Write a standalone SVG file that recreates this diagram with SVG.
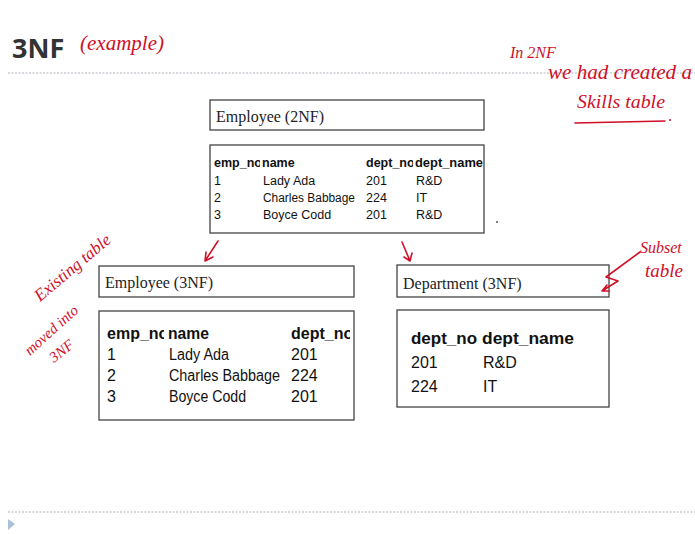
<svg xmlns="http://www.w3.org/2000/svg" width="695" height="534" viewBox="0 0 695 534">
<style>
.box{fill:#fff;stroke:#444;stroke-width:1.3}
.ttl{font-family:"Liberation Serif",serif;font-size:16px;fill:#222}
.t1{font-family:"Liberation Sans",sans-serif;font-size:12.5px;fill:#111}
.t1b{font-family:"Liberation Sans",sans-serif;font-size:12.5px;font-weight:bold;fill:#111}
.t2{font-family:"Liberation Sans",sans-serif;font-size:16px;fill:#111}
.t2b{font-family:"Liberation Sans",sans-serif;font-size:16px;font-weight:bold;fill:#111}
.hand{font-family:"Liberation Serif",serif;font-style:italic;fill:#d01028}
.ink{fill:none;stroke:#d01028;stroke-width:1.6;stroke-linecap:round;stroke-linejoin:round}
.dots{stroke:#c8ccd2;stroke-width:1.5;stroke-dasharray:2 1.5}
</style>
<defs>
<clipPath id="c1"><rect x="210" y="150" width="50" height="30"/></clipPath>
<clipPath id="c2"><rect x="360" y="150" width="53" height="30"/></clipPath>
<clipPath id="c3"><rect x="100" y="320" width="64" height="30"/></clipPath>
<clipPath id="c4"><rect x="280" y="320" width="70" height="30"/></clipPath>
</defs>
<rect width="695" height="534" fill="#fff"/>
<text x="12" y="58" font-family="Open Sans, Liberation Sans, sans-serif" font-size="27" font-weight="bold" fill="#333">3NF</text>
<text x="80" y="50" class="hand" font-size="21">(example)</text>
<line x1="8" y1="73" x2="695" y2="73" class="dots"/>
<text x="510" y="58" class="hand" font-size="16">In 2NF</text>
<text x="548" y="79" class="hand" font-size="20" textLength="144" lengthAdjust="spacingAndGlyphs">we had created a</text>
<text x="577" y="108" class="hand" font-size="19" textLength="88" lengthAdjust="spacingAndGlyphs">Skills table</text>
<path class="ink" d="M575 123 L665 121"/>
<circle cx="670" cy="120" r="1" fill="#d01028"/>

<g id="employee2nf">
<rect class="box" x="210" y="100" width="274" height="30"/>
<text x="216" y="122" class="ttl">Employee (2NF)</text>
<rect class="box" x="210" y="145" width="274" height="88"/>
<text x="214" y="167" class="t1b" clip-path="url(#c1)">emp_no</text>
<text x="262" y="167" class="t1b">name</text>
<text x="366" y="167" class="t1b" clip-path="url(#c2)">dept_no</text>
<text x="415" y="167" class="t1b" textLength="68" lengthAdjust="spacingAndGlyphs">dept_name</text>
<text x="214" y="185" class="t1">1</text><text x="263" y="185" class="t1">Lady Ada</text><text x="366" y="185" class="t1">201</text><text x="416" y="185" class="t1">R&amp;D</text>
<text x="214" y="202" class="t1">2</text><text x="263" y="202" class="t1" textLength="92" lengthAdjust="spacingAndGlyphs">Charles Babbage</text><text x="366" y="202" class="t1">224</text><text x="416" y="202" class="t1">IT</text>
<text x="214" y="219" class="t1">3</text><text x="263" y="219" class="t1">Boyce Codd</text><text x="366" y="219" class="t1">201</text><text x="416" y="219" class="t1">R&amp;D</text>
</g>
<circle cx="497" cy="222" r="1" fill="#555"/>

<g id="employee3nf">
<rect class="box" x="99" y="266" width="255" height="31"/>
<text x="105" y="288" class="ttl">Employee (3NF)</text>
<rect class="box" x="99" y="311" width="255" height="109"/>
<text x="107" y="339" class="t2b" clip-path="url(#c3)">emp_no</text>
<text x="168" y="339" class="t2b" textLength="41" lengthAdjust="spacingAndGlyphs">name</text>
<text x="291" y="339" class="t2b" clip-path="url(#c4)">dept_no</text>
<text x="107" y="360" class="t2">1</text><text x="169" y="360" class="t2" textLength="60" lengthAdjust="spacingAndGlyphs">Lady Ada</text><text x="291" y="360" class="t2">201</text>
<text x="107" y="381" class="t2">2</text><text x="169" y="381" class="t2" textLength="111" lengthAdjust="spacingAndGlyphs">Charles Babbage</text><text x="291" y="381" class="t2">224</text>
<text x="107" y="402" class="t2">3</text><text x="169" y="402" class="t2" textLength="77" lengthAdjust="spacingAndGlyphs">Boyce Codd</text><text x="291" y="402" class="t2">201</text>
</g>

<g id="department3nf">
<rect class="box" x="397" y="265" width="212" height="32"/>
<text x="403" y="289" class="ttl">Department (3NF)</text>
<rect class="box" x="397" y="310" width="212" height="97"/>
<text x="411" y="344" class="t2b" textLength="66" lengthAdjust="spacingAndGlyphs">dept_no</text>
<text x="482" y="344" class="t2b" textLength="92" lengthAdjust="spacingAndGlyphs">dept_name</text>
<text x="411" y="368" class="t2">201</text><text x="483" y="368" class="t2">R&amp;D</text>
<text x="411" y="392" class="t2">224</text><text x="483" y="392" class="t2">IT</text>
</g>

<g id="connectors">
<path class="ink" d="M218 241 L205 261 M205 261 L206 252 M205 261 L213 257"/>
<path class="ink" d="M402 242 L410 261 M410 261 L404 257 M410 261 L412 253"/>
<path class="ink" d="M640 252 L606 277 L618 281 L602 291 M602 291 L607 285 M602 291 L609 291"/>
</g>

<text x="640" y="253" class="hand" font-size="16">Subset</text>
<text x="645" y="277" class="hand" font-size="19">table</text>
<text class="hand" font-size="17" transform="translate(40 302) rotate(-40)">Existing table</text>
<text class="hand" font-size="15" transform="translate(30 356) rotate(-42)">moved into</text>
<text class="hand" font-size="15" transform="translate(54 363) rotate(-38)">3NF</text>

<line x1="8" y1="512" x2="695" y2="512" class="dots"/>
<path d="M8 519 L15 524 L8 530 Z" fill="#a9c0d6"/>
</svg>
